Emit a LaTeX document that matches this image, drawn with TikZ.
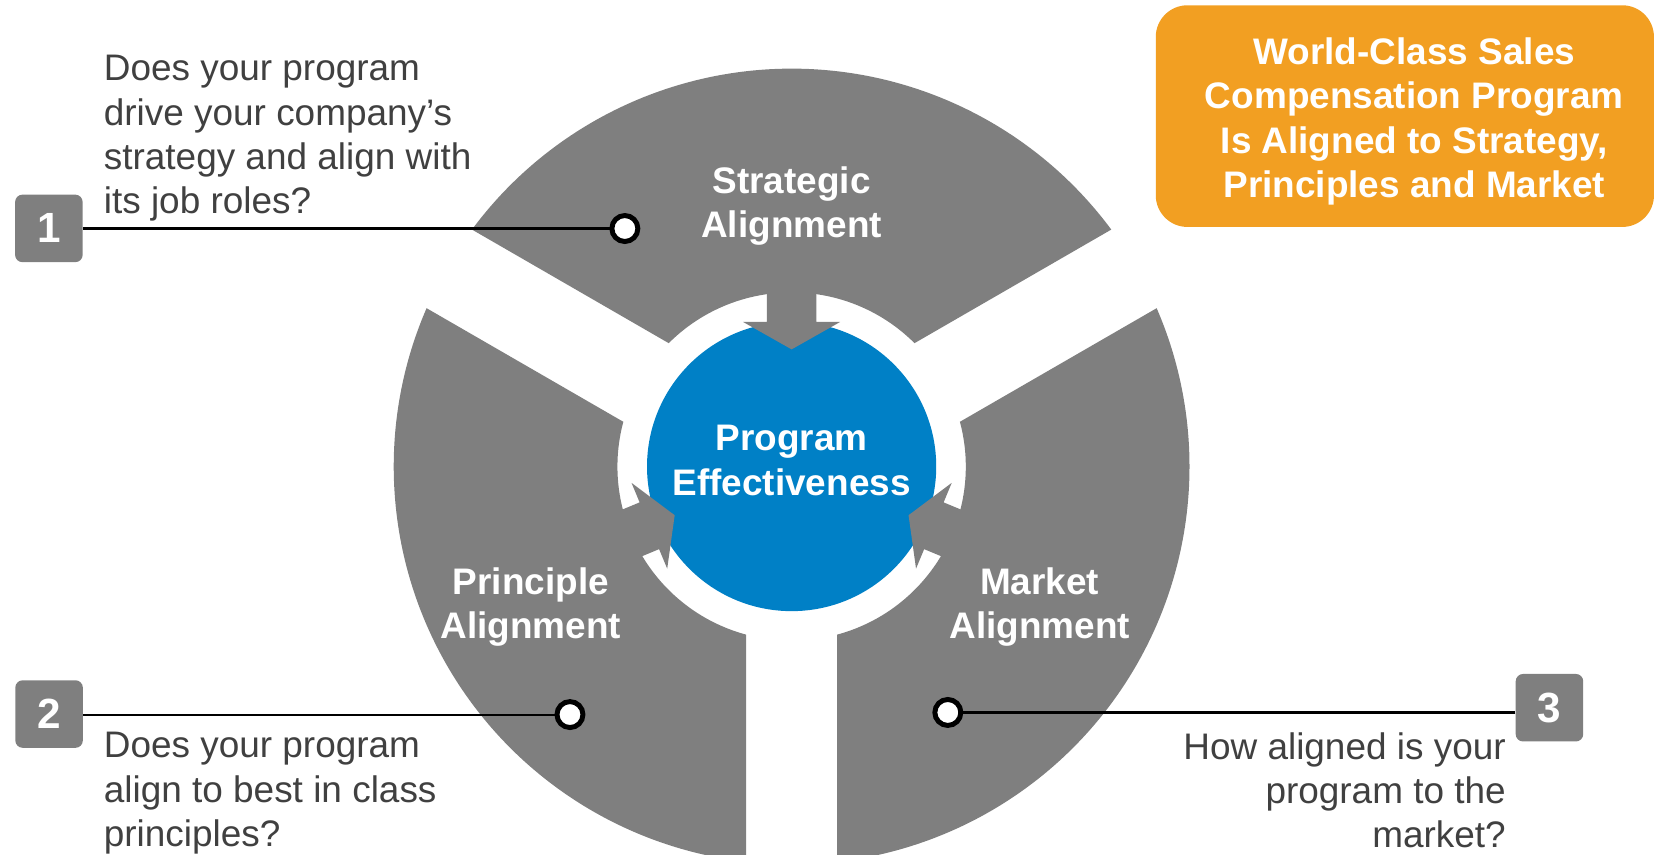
\documentclass[tikz,border=0pt]{standalone}
\usepackage{fontspec}
\setmainfont{Liberation Sans}
\definecolor{segfillgrey}{RGB}{127,127,127}
\definecolor{hubblue}{RGB}{0,128,198}
\definecolor{bannerorange}{RGB}{242,159,34}
\definecolor{questiontext}{RGB}{64,64,64}
\begin{document}
\begin{tikzpicture}[x=0.5pt,y=0.5pt,
  segfill/.style={fill=segfillgrey},
  seglabel/.style={text=white, font=\fontsize{17.5}{21}\selectfont\bfseries, align=center, inner sep=0},
  question/.style={text=questiontext, font=\fontsize{17.5}{21}\selectfont, inner sep=0},
  numbox/.style={fill=segfillgrey, rounded corners=3.5pt, minimum size=32pt, inner sep=0, text=white, font=\fontsize{20}{22}\selectfont\bfseries},
  anchordot/.style={circle, draw=black, fill=white, line width=2.35pt, minimum size=12.3pt, inner sep=0},
  leader/.style={draw=black, line width=1pt}
]
\useasboundingbox (0,0) rectangle (1568,-810);
\clip (0,0) rectangle (1568,-810);

% central hub, three ring segments and their arrows
\begin{scope}[shift={(750,-442)}]
  \node[circle, fill=hubblue, minimum size=137pt, inner sep=0] (hub) at (0,0) {};
  % strategic segment (top)
  \fill[segfill] (36.55:377) arc[start angle=36.55, end angle=143.45, radius=377]
    -- (134.89:165) arc[start angle=134.89, end angle=45.11, radius=165] -- cycle;
  % principle segment (lower left)
  \fill[segfill] (156.55:377) arc[start angle=156.55, end angle=263.45, radius=377]
    -- (254.89:165) arc[start angle=254.89, end angle=165.11, radius=165] -- cycle;
  % market segment (lower right)
  \fill[segfill] (-83.45:377) arc[start angle=-83.45, end angle=23.45, radius=377]
    -- (14.89:165) arc[start angle=14.89, end angle=-74.89, radius=165] -- cycle;
  % arrows into the hub
  \begin{scope}[rotate=90]
    \fill[segfill] (172,23.5) -- (137,23.5) -- (137,46) -- (111,0) -- (137,-46) -- (137,-23.5) -- (172,-23.5) -- cycle;
  \end{scope}
  \begin{scope}[rotate=202.6]
    \fill[segfill] (172,24) -- (146,24) -- (146,44) -- (120,0) -- (146,-44) -- (146,-24) -- (172,-24) -- cycle;
  \end{scope}
  \begin{scope}[rotate=-22.6]
    \fill[segfill] (172,24) -- (146,24) -- (146,44) -- (120,0) -- (146,-44) -- (146,-24) -- (172,-24) -- cycle;
  \end{scope}
\end{scope}

% labels
\node[seglabel, anchor=north] (hubtext) at (750,-402.5) {Program\\Effectiveness};
\node[seglabel, anchor=north] (strategic) at (750,-157.5) {Strategic\\Alignment};
\node[seglabel, anchor=north] (principle) at (503,-537.5) {Principle\\Alignment};
\node[seglabel, anchor=north] (market) at (985,-537.5) {Market\\Alignment};

% numbered callouts
\node[numbox] (num1) at (46.3,-216.4) {1};
\node[numbox] (num2) at (46.5,-676.5) {2};
\node[numbox] (num3) at (1468,-670.5) {3};
\coordinate (p1) at (592,-216.5);
\coordinate (p2) at (540,-677);
\coordinate (p3) at (898,-675);
\draw[leader] (num1.east |- p1) -- (p1);
\draw[leader] (num2.east |- p2) -- (p2);
\draw[leader] (num3.west |- p3) -- (p3);
\node[anchordot] (dot1) at (p1) {};
\node[anchordot] (dot2) at (p2) {};
\node[anchordot] (dot3) at (p3) {};

% questions
\node[question, anchor=north west, align=left] (q1) at (98,-52)
  {Does your program\\drive your company’s\\strategy and align with\\its job roles?};
\node[question, anchor=north west, align=left] (q2) at (98,-693.5)
  {Does your program\\align to best in class\\principles?};
\node[question, anchor=north east, align=right] (q3) at (1427,-693.5)
  {How aligned is your\\program to the\\market?};

% banner
\node[fill=bannerorange, rounded corners=15pt, minimum width=236pt, minimum height=105pt, inner sep=0] (banner) at (1331,-110) {};
\node[seglabel, anchor=north] (bannertext) at (1340,-35.5)
  {World-Class Sales\\Compensation Program\\Is Aligned to Strategy,\\Principles and Market};
\end{tikzpicture}
\end{document}
